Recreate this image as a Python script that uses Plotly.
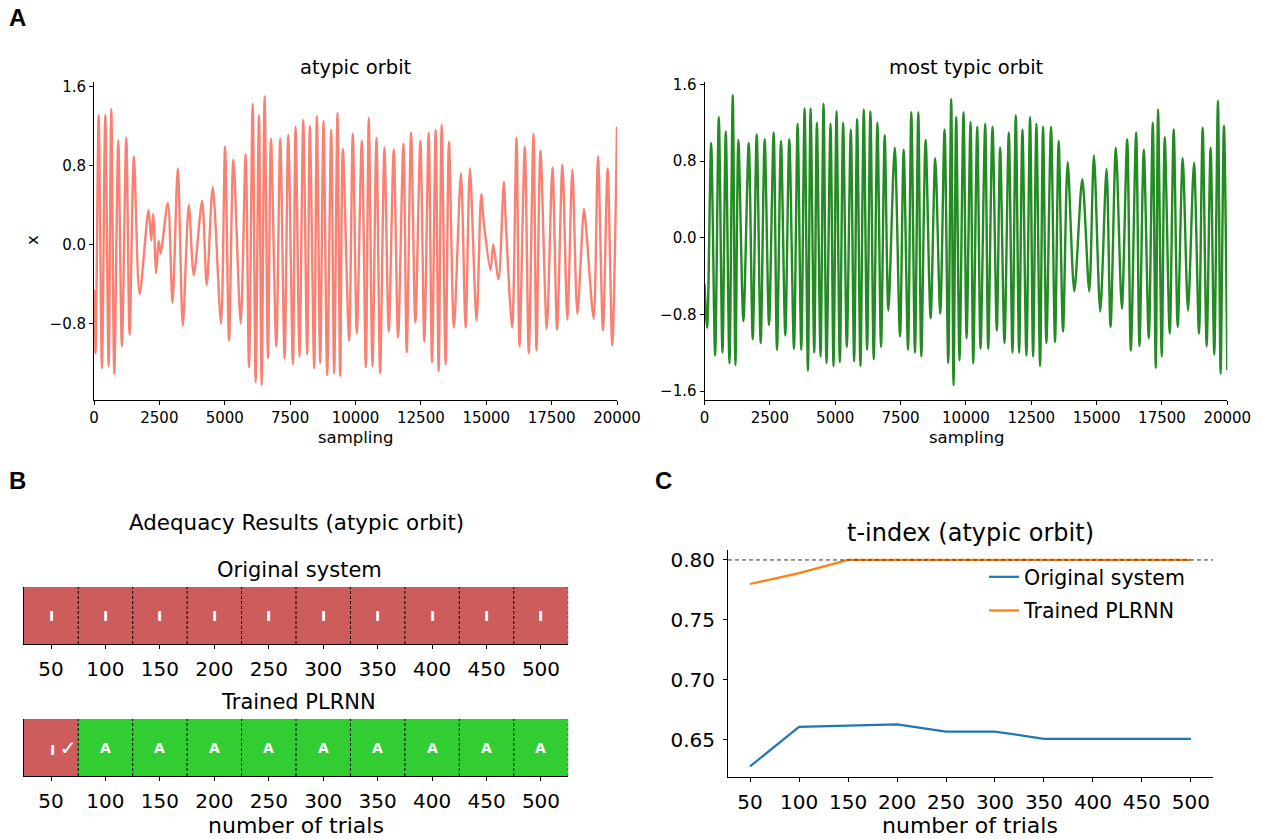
import plotly.graph_objects as go

# ---------------- data ----------------
atypic_sample = [0, 60, 178, 305, 432, 560, 661, 776, 929, 1068, 1234, 1361, 1526, 1743, 2086, 2188,
                 2264, 2379, 2468, 2544, 2824, 3002, 3205, 3396, 3625, 3816, 4134, 4312, 4541, 4859,
                 5012, 5164, 5330, 5609, 5800, 5928, 6068, 6182, 6309, 6411, 6525, 6653, 6767, 6971,
                 7123, 7289, 7429, 7607, 7708, 7861, 8001, 8153, 8255, 8421, 8523, 8650, 8777, 8917,
                 9070, 9184, 9311, 9413, 9515, 9756, 9896, 10051, 10242, 10395, 10509, 10649, 10802,
                 10942, 11107, 11272, 11463, 11628, 11832, 11959, 12125, 12290, 12481, 12633, 12799,
                 12926, 13066, 13180, 13295, 13447, 13575, 13765, 14033, 14211, 14376, 14630, 14808,
                 14910, 15165, 15266, 15470, 15673, 15750, 15991, 16157, 16271, 16475, 16627, 16806,
                 16920, 17073, 17315, 17531, 17709, 17913, 18103, 18294, 18485, 18739, 18828, 19108,
                 19273, 19464, 19642, 19820, 20000]
atypic_x = [-0.46, -1.10, 1.31, -1.25, 1.31, -1.23, 1.37, -1.31, 1.05, -1.03, 1.08, -0.91, 0.89, -0.50,
            0.35, 0.04, 0.31, -0.29, 0.04, -0.09, 0.42, -0.59, 0.77, -0.82, 0.40, -0.31, 0.44, -0.41,
            0.58, -0.80, 0.99, -0.97, 0.86, -0.80, 0.91, -1.24, 1.42, -1.39, 1.31, -1.42, 1.50, -1.15,
            1.07, -1.03, 1.07, -1.15, 1.11, -1.21, 1.19, -1.13, 1.26, -1.11, 1.20, -1.25, 1.30, -1.20,
            1.25, -1.32, 1.16, -1.30, 1.33, -1.33, 0.97, -0.97, 1.12, -0.90, 1.05, -1.24, 1.28, -1.23,
            1.08, -1.30, 0.98, -0.88, 0.96, -0.94, 1.02, -1.09, 1.13, -0.79, 1.05, -0.98, 1.13, -1.19,
            1.16, -1.28, 1.21, -1.21, 1.04, -0.84, 0.72, -0.84, 0.77, -0.77, 0.51, 0.21, -0.26, 0.00,
            -0.35, 0.63, 0.21, -0.84, 1.08, -1.03, 0.99, -1.10, 1.12, -1.07, 0.95, -0.85, 0.78, -0.86,
            0.81, -0.76, 0.76, -0.70, 0.36, 0.14, -0.75, 0.89, -0.87, 0.77, -1.02, 1.19]

typic_sample = [0, 102, 254, 407, 547, 687, 814, 954, 1081, 1183, 1297, 1488, 1692, 1845, 1997, 2150,
                2302, 2468, 2646, 2773, 2926, 3091, 3244, 3422, 3562, 3702, 3829, 3956, 4058, 4198,
                4299, 4439, 4554, 4668, 4821, 4935, 5050, 5177, 5304, 5444, 5597, 5724, 5839, 5966,
                6093, 6220, 6347, 6474, 6614, 6754, 6894, 7034, 7276, 7479, 7619, 7785, 7912, 8052,
                8179, 8293, 8459, 8650, 8828, 9019, 9184, 9324, 9438, 9527, 9629, 9756, 9909, 10026,
                10178, 10280, 10433, 10560, 10738, 10853, 11018, 11183, 11310, 11476, 11641, 11781,
                11908, 12036, 12163, 12315, 12455, 12570, 12697, 12837, 12951, 13079, 13257, 13409,
                13549, 13715, 13893, 14147, 14452, 14719, 14898, 15139, 15381, 15534, 15737, 15966,
                16170, 16309, 16513, 16640, 16806, 16996, 17149, 17263, 17352, 17492, 17607, 17798,
                17950, 18103, 18294, 18497, 18726, 18917, 19057, 19210, 19362, 19502, 19642, 19744,
                19871, 20000]
typic_x = [-0.48, -0.94, 0.99, -1.23, 1.26, -1.20, 1.11, -1.31, 1.49, -1.33, 1.02, -0.87, 0.99, -1.06,
           1.08, -1.10, 1.03, -0.91, 1.10, -1.17, 1.01, -1.02, 1.03, -1.16, 1.19, -1.17, 1.35, -1.39,
           1.35, -1.20, 1.20, -1.24, 1.40, -1.31, 1.19, -1.34, 1.32, -1.30, 1.20, -1.14, 1.13, -1.29,
           1.24, -1.34, 1.34, -1.17, 1.32, -1.27, 1.20, -1.14, 1.07, -0.76, 0.94, -1.03, 0.92, -1.17,
           1.31, -1.20, 1.31, -1.24, 1.02, -0.84, 0.83, -0.79, 1.13, -1.31, 1.45, -1.54, 1.26, -1.28,
           1.31, -1.05, 1.21, -1.31, 1.16, -1.16, 1.19, -1.16, 1.16, -0.97, 0.94, -1.10, 1.10, -1.20,
           1.28, -1.20, 1.13, -1.23, 1.26, -1.24, 1.19, -1.34, 1.16, -1.10, 1.16, -1.09, 1.01, -0.98,
           0.79, -0.56, 0.61, -0.56, 0.86, -0.77, 0.72, -0.93, 0.94, -0.74, 1.03, -1.18, 1.10, -1.13,
           0.92, -1.05, 1.20, -1.36, 1.34, -1.24, 1.05, -1.00, 1.13, -0.93, 0.83, -0.76, 0.78, -1.00,
           1.15, -1.13, 0.94, -1.22, 1.43, -1.42, 1.17, -1.38]

x_ticks_A = [0, 2500, 5000, 7500, 10000, 12500, 15000, 17500, 20000]
y_ticks_left = [-0.8, 0.0, 0.8, 1.6]
y_ticks_right = [-1.6, -0.8, 0.0, 0.8, 1.6]

# Panel B / C
trials = [50, 100, 150, 200, 250, 300, 350, 400, 450, 500]
adequacy_original = ["I", "I", "I", "I", "I", "I", "I", "I", "I", "I"]
adequacy_plrnn = ["I ✓", "A", "A", "A", "A", "A", "A", "A", "A", "A"]
tindex_original = [0.628, 0.661, 0.662, 0.663, 0.657, 0.657, 0.651, 0.651, 0.651, 0.651]
tindex_plrnn = [0.780, 0.789, 0.800, 0.800, 0.800, 0.800, 0.800, 0.800, 0.800, 0.800]
tindex_threshold = 0.8

# ---------------- helpers ----------------
W, H = 1263, 839
def fx(p):
    return p / W
def fy(p):
    return 1 - p / H

FONT = "DejaVu Sans"
code = {"I": 0, "A": 1}

fig = go.Figure()

fig.add_trace(go.Scatter(x=atypic_sample, y=atypic_x, mode="lines",
                         line=dict(color="salmon", width=2.4, shape="spline", smoothing=0.8),
                         xaxis="x", yaxis="y", showlegend=False, hoverinfo="skip"))
fig.add_trace(go.Scatter(x=typic_sample, y=typic_x, mode="lines",
                         line=dict(color="forestgreen", width=2.4, shape="spline", smoothing=0.8),
                         xaxis="x2", yaxis="y2", showlegend=False, hoverinfo="skip"))

for labels, xa, ya in [(adequacy_original, "x3", "y3"), (adequacy_plrnn, "x4", "y4")]:
    fig.add_trace(go.Heatmap(x=trials, y=[0], z=[[code[l[0]] for l in labels]],
                             colorscale=[[0, "indianred"], [1, "limegreen"]], zmin=0, zmax=1,
                             showscale=False, xaxis=xa, yaxis=ya, hoverinfo="skip"))

fig.add_trace(go.Scatter(x=trials, y=tindex_original, mode="lines", name="Original system",
                         line=dict(color="#1f77b4", width=2.2), xaxis="x5", yaxis="y5",
                         legendgroup="g1"))
fig.add_trace(go.Scatter(x=trials, y=tindex_plrnn, mode="lines", name="Trained PLRNN",
                         line=dict(color="#ff7f0e", width=2.2), xaxis="x5", yaxis="y5",
                         legendgroup="g2"))

def ax(**kw):
    base = dict(showgrid=False, zeroline=False, showline=True, linecolor="black", linewidth=1,
                ticks="outside", ticklen=4, tickwidth=1, tickcolor="black", automargin=False,
                tickfont=dict(family=FONT, size=15, color="black"))
    base.update(kw)
    return base

big = dict(family=FONT, size=20, color="black")
layout = dict(
    width=W, height=H, autosize=False,
    margin=dict(l=0, r=0, t=0, b=0, pad=0, autoexpand=False),
    paper_bgcolor="white", plot_bgcolor="white",
    xaxis=ax(domain=[fx(94), fx(617)], anchor="y", range=[0, 20000], tickvals=x_ticks_A,
             tickformat="d"),
    yaxis=ax(domain=[fy(399.5), fy(81.7)], anchor="x", range=[-1.566, 1.646],
             tickvals=y_ticks_left, tickformat=".1f"),
    xaxis2=ax(domain=[fx(704.5), fx(1227.3)], anchor="y2", range=[0, 20000], tickvals=x_ticks_A,
              tickformat="d"),
    yaxis2=ax(domain=[fy(400), fy(82)], anchor="x2", range=[-1.694, 1.626],
              tickvals=y_ticks_right, tickformat=".1f"),
    xaxis3=ax(domain=[fx(23.8), fx(568.2)], anchor="y3", range=[25, 525], tickvals=trials,
              tickfont=big, ticklabelstandoff=3),
    yaxis3=ax(domain=[fy(644), fy(587)], anchor="x3", range=[-0.5, 0.5], ticks="",
              showticklabels=False),
    xaxis4=ax(domain=[fx(23.8), fx(568.2)], anchor="y4", range=[25, 525], tickvals=trials,
              tickfont=big, ticklabelstandoff=3),
    yaxis4=ax(domain=[fy(776), fy(719)], anchor="x4", range=[-0.5, 0.5], ticks="",
              showticklabels=False),
    xaxis5=ax(domain=[fx(728), fx(1213)], anchor="y5", range=[27.5, 522.5], tickvals=trials,
              tickfont=big, ticklabelstandoff=3),
    yaxis5=ax(domain=[fy(776.7), fy(550)], anchor="x5", range=[0.6194, 0.8083],
              tickvals=[0.65, 0.70, 0.75, 0.80], tickformat=".2f",
              tickfont=big, ticklabelstandoff=4),
    showlegend=True,
    legend=dict(x=fx(984), y=fy(557), xanchor="left", yanchor="top", bgcolor="rgba(0,0,0,0)",
                font=dict(family=FONT, size=20.5, color="black"), traceorder="grouped",
                tracegroupgap=4),
)
fig.update_layout(**layout)

shapes = []
edges = [(trials[i] + trials[i + 1]) / 2 for i in range(len(trials) - 1)]
edges.append(trials[-1] + (trials[-1] - trials[-2]) / 2)
for xa, ya in [("x3", "y3"), ("x4", "y4")]:
    for e in edges:
        shapes.append(dict(type="line", xref=xa, yref=ya + " domain", x0=e, x1=e, y0=0, y1=1,
                           line=dict(color="black", width=1, dash="3px,2px"), layer="above"))
shapes.append(dict(type="line", xref="x5 domain", yref="y5", x0=0, x1=1,
                   y0=tindex_threshold, y1=tindex_threshold,
                   line=dict(color="#333333", width=1, dash="4px,3px"), layer="above"))
fig.update_layout(shapes=shapes)

ann = []
def text(t, x, y, size, bold=False, family=FONT, angle=0, color="black"):
    ann.append(dict(text=t, x=fx(x), y=fy(y), xref="paper", yref="paper", showarrow=False,
                    xanchor="center", yanchor="middle", textangle=angle,
                    font=dict(family=family, size=size, color=color,
                              weight="bold" if bold else "normal")))

text("A", 17, 18, 24, bold=True, family="Liberation Sans")
text("B", 17, 480, 24, bold=True, family="Liberation Sans")
text("C", 663, 480, 24, bold=True, family="Liberation Sans")

text("atypic orbit", 355.5, 67, 19.5)
text("most typic orbit", 966, 67, 19.5)
text("sampling", 355.5, 437, 16.5)
text("sampling", 966, 437, 16.5)
text("x", 32, 240, 16.5, angle=-90)

text("Adequacy Results (atypic orbit)", 296, 522, 21.4)
text("Original system", 299, 570, 21)
text("Trained PLRNN", 298, 702, 21)
text("number of trials", 296, 825, 22)

text("t-index (atypic orbit)", 970, 533, 24)
text("number of trials", 970, 825, 22)

def cell_text(lab):
    if "✓" in lab:
        head, _, _ = lab.partition("✓")
        return "<b>" + head.strip() + "</b> <span style='font-size:20px'>✓</span>"
    return "<b>" + lab + "</b>"

for labels, xa, ya in [(adequacy_original, "x3", "y3"), (adequacy_plrnn, "x4", "y4")]:
    for t, lab in zip(trials, labels):
        ann.append(dict(text=cell_text(lab), x=t, y=0, xref=xa, yref=ya, showarrow=False,
                        xshift=12 if "✓" in lab else 0,
                        font=dict(family=FONT, size=14, color="white")))

fig.update_layout(annotations=ann)

post = ("document.documentElement.style.margin='0';document.body.style.margin='0';"
        "document.body.style.overflow='hidden';"
        "var d=document.getElementById('{plot_id}');d.style.position='absolute';"
        "d.style.left='0px';d.style.top='0px';")
fig.write_html("out.html", config={"displayModeBar": False, "responsive": False},
               post_script=post)
